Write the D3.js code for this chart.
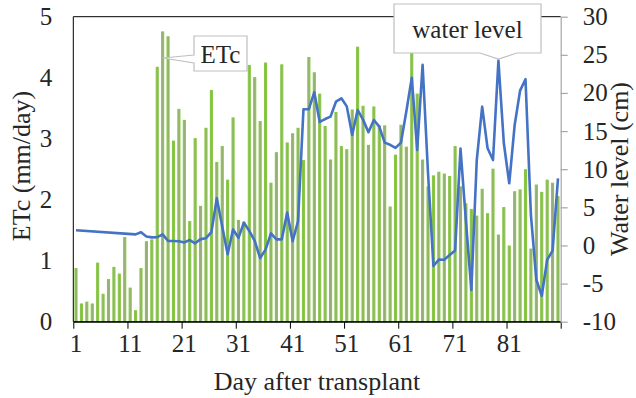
<!DOCTYPE html>
<html>
<head>
<meta charset="utf-8">
<script src="https://cdn.jsdelivr.net/npm/d3@7/dist/d3.min.js"></script>
<style>
  html, body { margin: 0; padding: 0; background: #fff; }
  svg { display: block; }
  svg text { font-family: "Liberation Serif", "Times New Roman", serif !important; fill: #262626; }
</style>
</head>
<body>
<svg id="chart" width="636" height="398"></svg>
<script>
// ---- Data ----
const days = d3.range(1, 91);
const etc = [0.87,0.29,0.32,0.29,0.96,0.45,0.69,0.89,0.78,1.38,
             0.55,0.18,0.87,1.31,1.34,4.17,4.75,4.67,2.96,3.48,
             3.30,1.64,3.00,1.89,3.17,3.79,2.61,2.87,2.32,3.34,
             1.66,1.63,4.20,4.00,3.28,4.24,2.27,2.77,4.21,2.93,
             3.08,3.17,2.64,4.33,4.08,3.73,3.20,2.65,3.43,2.87,
             2.82,3.47,4.50,3.53,2.89,3.52,3.21,3.21,1.88,2.73,
             3.22,2.86,4.40,3.73,2.65,2.21,2.39,2.45,2.42,2.38,
             2.87,2.21,1.93,1.84,1.73,2.17,1.77,2.50,1.42,1.87,
             1.24,2.13,2.16,2.49,1.19,2.24,2.12,2.32,2.27,2.05];
const waterLevel = [2.0,null,null,null,null,null,null,null,null,null,
             null,1.45,1.74,1.17,1.06,1.08,1.46,0.60,0.58,0.56,
             0.40,0.71,0.28,0.83,0.95,1.75,6.2,2.5,-1.15,2.1,
             1.0,2.99,1.9,0.6,-1.65,-0.55,1.58,0.8,0.8,4.32,
             0.55,3.2,17.86,17.88,20.1,16.2,16.58,16.89,18.85,19.3,
             18.24,14.49,17.77,16.5,14.85,16.45,15.58,13.48,13.2,12.8,
             13.48,17.6,22.0,12.52,23.7,9.5,-2.7,-1.85,-1.88,-1.25,
             -0.65,12.7,3.2,-5.84,11.2,18.2,12.74,11.2,24.25,13.4,
             8.15,15.8,20.3,21.8,4.0,-4.5,-6.6,-1.9,-0.69,8.8];
const xLabelDays = [1,11,21,31,41,51,61,71,81];
const etcTicks = [0,1,2,3,4,5];
const wlTicks = [-10,-5,0,5,10,15,20,25,30];
const xTitle = "Day after transplant";
const yLeftTitle = "ETc (mm/day)";
const yRightTitle = "Water level (cm)";
const etcLabel = "ETc";
const wlLabel = "water level";

// ---- Layout ----
const L = 73.3, R = 560.7, T = 16.7, B = 321.7;
const svg = d3.select("#chart");
const FS = 25, TFS = 26;
const FF = '"Liberation Serif", "Times New Roman", serif';

const x = d3.scaleBand().domain(days).range([L, R]).padding(0);
const xb = d3.scaleLinear().domain([0, days.length]).range([L, R]);
const yL = d3.scaleLinear().domain([0, 5]).range([B, T]);
const yR = d3.scaleLinear().domain([-10, 30]).range([B, T]);
const bw = x.bandwidth();

// Bars
svg.append("g").selectAll("rect").data(days).join("rect")
  .attr("x", d => x(d) + bw / 2 - 1)
  .attr("width", 2)
  .attr("y", (d, i) => yL(etc[i]))
  .attr("height", (d, i) => B - yL(etc[i]))
  .attr("fill", "#9aa982")
  .attr("stroke", "#88c744")
  .attr("stroke-width", 1.1);

// Plot border (top, left, bottom)
svg.append("path")
  .attr("d", `M${R},${T}H${L}V${B}H${R}`)
  .attr("fill", "none").attr("stroke", "#000").attr("stroke-width", 1);

// Bottom boundary ticks
const gxT = svg.append("g").attr("transform", `translate(0,${B})`)
  .call(d3.axisBottom(xb).tickValues(d3.range(0, 91, 10)).tickFormat("").tickSize(7).tickSizeOuter(0));
gxT.select(".domain").attr("stroke", "#000");
gxT.selectAll(".tick line").attr("stroke", "#000");

function styleText(g) {
  g.attr("font-family", FF).attr("font-size", FS);
  g.selectAll("text").style("font-family", FF).style("font-size", FS + "px").attr("fill", "#262626");
}

// Bottom labels
const gx = svg.append("g").attr("transform", `translate(0,${B})`)
  .call(d3.axisBottom(x).tickValues(xLabelDays).tickSize(0).tickPadding(13));
gx.select(".domain").remove();
styleText(gx);

// Left axis
const gl = svg.append("g").attr("transform", `translate(${L},0)`)
  .call(d3.axisLeft(yL).tickValues(etcTicks).tickFormat(d => String(d)).tickSize(0).tickPadding(21));
gl.select(".domain").remove();
styleText(gl);

// Right axis
const gr = svg.append("g").attr("transform", `translate(${R},0)`)
  .call(d3.axisRight(yR).tickValues(wlTicks).tickFormat(d => String(d)).tickSize(7).tickSizeOuter(0).tickPadding(15));
gr.select(".domain").attr("stroke", "#a6a6a6").attr("stroke-width", 1.2);
gr.selectAll(".tick line").attr("stroke", "#a6a6a6").attr("stroke-width", 1.2);
styleText(gr);

// Water level line
const pts = days.map((d, i) => [d, waterLevel[i]]).filter(p => p[1] !== null);
svg.append("path")
  .datum(pts)
  .attr("fill", "none")
  .attr("stroke", "#4472c4")
  .attr("stroke-width", 2.6)
  .attr("stroke-linejoin", "round")
  .attr("d", d3.line().x(p => x(p[0]) + bw / 2).y(p => yR(p[1])));

// Titles
svg.append("text").attr("x", (L + R) / 2).attr("y", 390).attr("text-anchor", "middle")
  .style("font-size", TFS + "px").text(xTitle);
svg.append("text").attr("transform", `translate(30,166) rotate(-90)`).attr("text-anchor", "middle")
  .style("font-size", TFS + "px").text(yLeftTitle);
svg.append("text").attr("transform", `translate(628,169) rotate(-90)`).attr("text-anchor", "middle")
  .style("font-size", TFS + "px").text(yRightTitle);

// Callouts
const cE = { x: 194, y: 36, w: 53, h: 35 };
const tipE = [x(17) + bw / 2, 58];
svg.append("path")
  .attr("d", `M${cE.x},${cE.y}H${cE.x + cE.w}V${cE.y + cE.h}H${cE.x}V63L${tipE[0]},${tipE[1]}L${cE.x},55Z`)
  .attr("fill", "#fff").attr("stroke", "#bfbfbf").attr("stroke-width", 1.2);
svg.append("text").attr("x", cE.x + cE.w / 2).attr("y", 63).attr("text-anchor", "middle")
  .style("font-size", FS + "px").text(etcLabel);

const cW = { x: 394, y: 4, w: 147, h: 49 };
const tipW = [x(79) + bw / 2, 59];
svg.append("path")
  .attr("d", `M${cW.x},${cW.y}H${cW.x + cW.w}V${cW.y + cW.h}H517L${tipW[0]},${tipW[1]}L480,${cW.y + cW.h}H${cW.x}Z`)
  .attr("fill", "#fff").attr("stroke", "#bfbfbf").attr("stroke-width", 1.2);
svg.append("text").attr("x", cW.x + cW.w / 2).attr("y", 38).attr("text-anchor", "middle")
  .style("font-size", FS + "px").text(wlLabel);
</script>
</body>
</html>
